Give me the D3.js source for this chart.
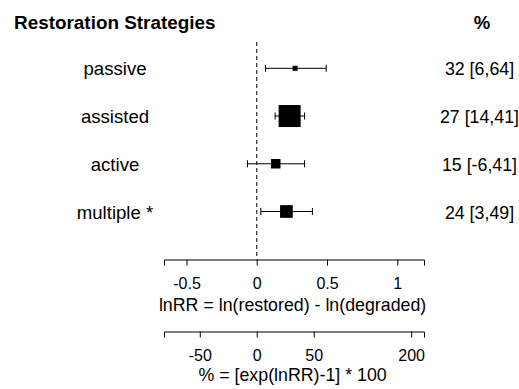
<!DOCTYPE html>
<html>
<head>
<meta charset="utf-8">
<script src="https://cdn.jsdelivr.net/npm/d3@7/dist/d3.min.js"></script>
<style>
  body { margin: 0; background: #fff; }
  svg { font-family: "Liberation Sans", Arial, sans-serif; }
  .axis path, .axis line { stroke: #000; stroke-width: 1; }
  .axis text { font-size: 16px; fill: #000; }
</style>
</head>
<body>
<svg id="chart" width="519" height="389"></svg>
<script>
  // data
  var strategies = ["passive", "assisted", "active", "multiple *"];
  var lnEst = [0.273, 0.234, 0.135, 0.211];
  var lnLo  = [0.062, 0.131, -0.066, 0.029];
  var lnHi  = [0.494, 0.340, 0.340, 0.396];
  var weights = [10.2, 44.7, 19.3, 25.8];   // relative study weights -> box size
  var pctLabels = ["32 [6,64]", "27 [14,41]", "15 [-6,41]", "24 [3,49]"];
  var lnTicks = [-0.5, 0, 0.5, 1];
  var pctTicks = [-50, 0, 50, 200];

  var svg = d3.select("#chart");

  var x = d3.scaleLinear().domain([-0.66, 1.19]).range([164, 424]);
  var y = d3.scalePoint().domain(strategies).range([68.3, 211.5]);
  var box = d3.scaleLinear().domain([0, d3.max(weights)]).range([0, 22]);

  // % axis is placed symmetrically on the log scale, as in the original figure
  var pctToLn = function(p) { return Math.sign(p) * Math.log(1 + Math.abs(p) / 100); };

  // headers
  svg.append("text").attr("x", 14).attr("y", 29)
    .style("font-size", "18.9px").style("font-weight", "bold")
    .text("Restoration Strategies");
  svg.append("text").attr("x", 482).attr("y", 29).attr("text-anchor", "middle")
    .style("font-size", "18.5px").style("font-weight", "bold")
    .text("%");

  // reference line at 0
  svg.append("line")
    .attr("x1", x(0)).attr("x2", x(0))
    .attr("y1", 42).attr("y2", 259.5)
    .attr("stroke", "#000").attr("stroke-dasharray", "4,3");

  var rows = svg.selectAll("g.row")
    .data(strategies)
    .join("g").attr("class", "row")
    .attr("transform", function(d) { return "translate(0," + y(d) + ")"; });

  rows.append("text")
    .attr("x", 115).attr("y", 7).attr("text-anchor", "middle")
    .style("font-size", "18.6px")
    .text(function(d) { return d; });

  rows.append("line")
    .attr("x1", function(d, i) { return x(lnLo[i]); })
    .attr("x2", function(d, i) { return x(lnHi[i]); })
    .attr("stroke", "#000");
  rows.append("line")
    .attr("x1", function(d, i) { return x(lnLo[i]); })
    .attr("x2", function(d, i) { return x(lnLo[i]); })
    .attr("y1", -3.5).attr("y2", 3.5).attr("stroke", "#000");
  rows.append("line")
    .attr("x1", function(d, i) { return x(lnHi[i]); })
    .attr("x2", function(d, i) { return x(lnHi[i]); })
    .attr("y1", -3.5).attr("y2", 3.5).attr("stroke", "#000");

  rows.append("rect")
    .attr("x", function(d, i) { return x(lnEst[i]) - box(weights[i]) / 2; })
    .attr("y", function(d, i) { return -box(weights[i]) / 2; })
    .attr("width", function(d, i) { return box(weights[i]); })
    .attr("height", function(d, i) { return box(weights[i]); })
    .attr("fill", "#000");

  rows.append("text")
    .attr("x", 479.5).attr("y", 7).attr("text-anchor", "middle")
    .style("font-size", "17.8px")
    .text(function(d, i) { return pctLabels[i]; });

  // lnRR axis
  svg.append("g").attr("class", "axis")
    .attr("transform", "translate(0,259.5)")
    .call(d3.axisBottom(x).tickValues(lnTicks).tickSizeOuter(0).tickSize(6).tickPadding(12)
      .tickFormat(function(d) { return d === 0 ? "0" : String(d); }));
  svg.append("text").attr("x", x(0.255)).attr("y", 311).attr("text-anchor", "middle")
    .style("font-size", "17.8px")
    .text("lnRR = ln(restored) - ln(degraded)");

  // % axis
  svg.append("g").attr("class", "axis")
    .attr("transform", "translate(0,331.5)")
    .call(d3.axisBottom(x).tickValues(pctTicks.map(pctToLn)).tickSizeOuter(0).tickSize(6).tickPadding(12)
      .tickFormat(function(d, i) { return String(pctTicks[i]); }));
  svg.append("text").attr("x", x(0.255)).attr("y", 381).attr("text-anchor", "middle")
    .style("font-size", "17.8px")
    .text("% = [exp(lnRR)-1] * 100");
</script>
</body>
</html>
